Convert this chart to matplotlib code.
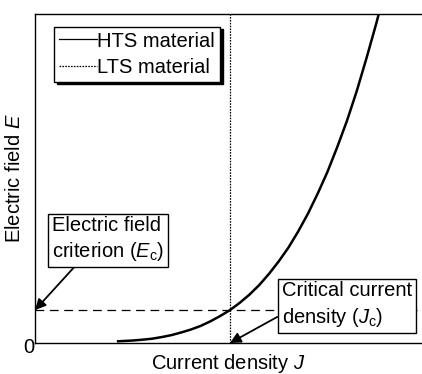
import matplotlib
matplotlib.use('Agg')
import matplotlib.pyplot as plt
from matplotlib.lines import Line2D

plt.rcParams['font.family'] = ['Liberation Sans', 'DejaVu Sans']
plt.rcParams['mathtext.fontset'] = 'custom'
plt.rcParams['mathtext.rm'] = 'Liberation Sans'
plt.rcParams['mathtext.it'] = 'Liberation Sans:italic'

# HTS E-J curve (J in units of Jc, E in units of Ec)
hts_j = [0.42, 0.45, 0.5, 0.55, 0.6, 0.65, 0.7, 0.75, 0.8, 0.85, 0.9, 0.95, 1.0,
         1.05, 1.1, 1.15, 1.2, 1.25, 1.3, 1.35, 1.4, 1.45, 1.5, 1.55, 1.6, 1.65,
         1.7, 1.75, 1.77]
hts_e = [0.05, 0.06, 0.075, 0.1, 0.13, 0.18, 0.24, 0.32, 0.41, 0.52, 0.66, 0.82, 1.0,
         1.22, 1.47, 1.76, 2.1, 2.48, 2.9, 3.39, 3.93, 4.54, 5.2, 5.95, 6.75, 7.65,
         8.65, 9.7, 10.15]

# LTS material switches abruptly at Jc
jc = 1.0
ec = 1.0

x_max = 1.98
y_max = 10.0
fs = 14.5

fig = plt.figure(figsize=(4.22, 3.74), dpi=100)
ax = fig.add_axes([35 / 422, 31 / 374, 386 / 422, 329 / 374])

ax.plot(hts_j, hts_e, color='black', lw=1.8, solid_capstyle='butt')
ax.plot([jc, jc], [0, y_max], color='black', lw=0.9, ls=(0, (1.3, 1.0)))
ax.plot([0, 1.96], [ec, ec], color='black', lw=0.9, ls=(0, (7, 4.5)))

ax.set_xlim(0, x_max)
ax.set_ylim(0, y_max)
ax.set_xticks([])
ax.set_yticks([])
ax.spines['right'].set_visible(False)
for s in ['left', 'bottom', 'top']:
    ax.spines[s].set_linewidth(1.0)

handles = [Line2D([], [], color='black', lw=0.9),
           Line2D([], [], color='black', lw=0.9, ls=(0, (1.3, 1.0)))]
leg = ax.legend(handles, ['HTS material', 'LTS material'],
                loc='upper left', bbox_to_anchor=(0.049, 0.962), borderaxespad=0,
                fontsize=fs, handlelength=1.9, handletextpad=0.0, labelspacing=0.35,
                borderpad=0.25, fancybox=False, framealpha=1,
                shadow={'color': 'black', 'alpha': 1})
leg.get_frame().set_edgecolor('black')
leg.get_frame().set_linewidth(1.0)

box = dict(boxstyle='square,pad=0.2', fc='white', ec='black', lw=1.0)
ax.annotate('Electric field\ncriterion ($\\mathit{E}_\\mathrm{c}$)',
            xy=(0, ec), xycoords='data',
            xytext=(0.19, 0.315), textcoords='axes fraction',
            ha='center', va='center', multialignment='left', fontsize=fs, bbox=box,
            linespacing=1.3,
            arrowprops=dict(arrowstyle='-|>', color='black', lw=1.3, mutation_scale=16,
                            relpos=(0.23, 0), shrinkA=0, shrinkB=0),
            annotation_clip=False)
ax.annotate('Critical current\ndensity ($\\mathit{J}_\\mathrm{c}$)',
            xy=(jc, 0), xycoords='data',
            xytext=(0.808, 0.1155), textcoords='axes fraction',
            ha='center', va='center', multialignment='left', fontsize=fs, bbox=box,
            linespacing=1.3,
            arrowprops=dict(arrowstyle='-|>', color='black', lw=1.3, mutation_scale=16,
                            relpos=(0, 0.3), shrinkA=0, shrinkB=0),
            annotation_clip=False)

ax.text(-0.016, -0.014, '0', transform=ax.transAxes, ha='center', va='center', fontsize=fs)
ax.text(0.5, -0.062, 'Current density $\\mathit{J}$', transform=ax.transAxes,
        ha='center', va='center', fontsize=fs)
ax.text(-0.052, 0.5, 'Electric field $\\mathit{E}$', transform=ax.transAxes,
        ha='center', va='center', rotation=90, fontsize=fs)

fig.savefig('out.png', dpi=100)
